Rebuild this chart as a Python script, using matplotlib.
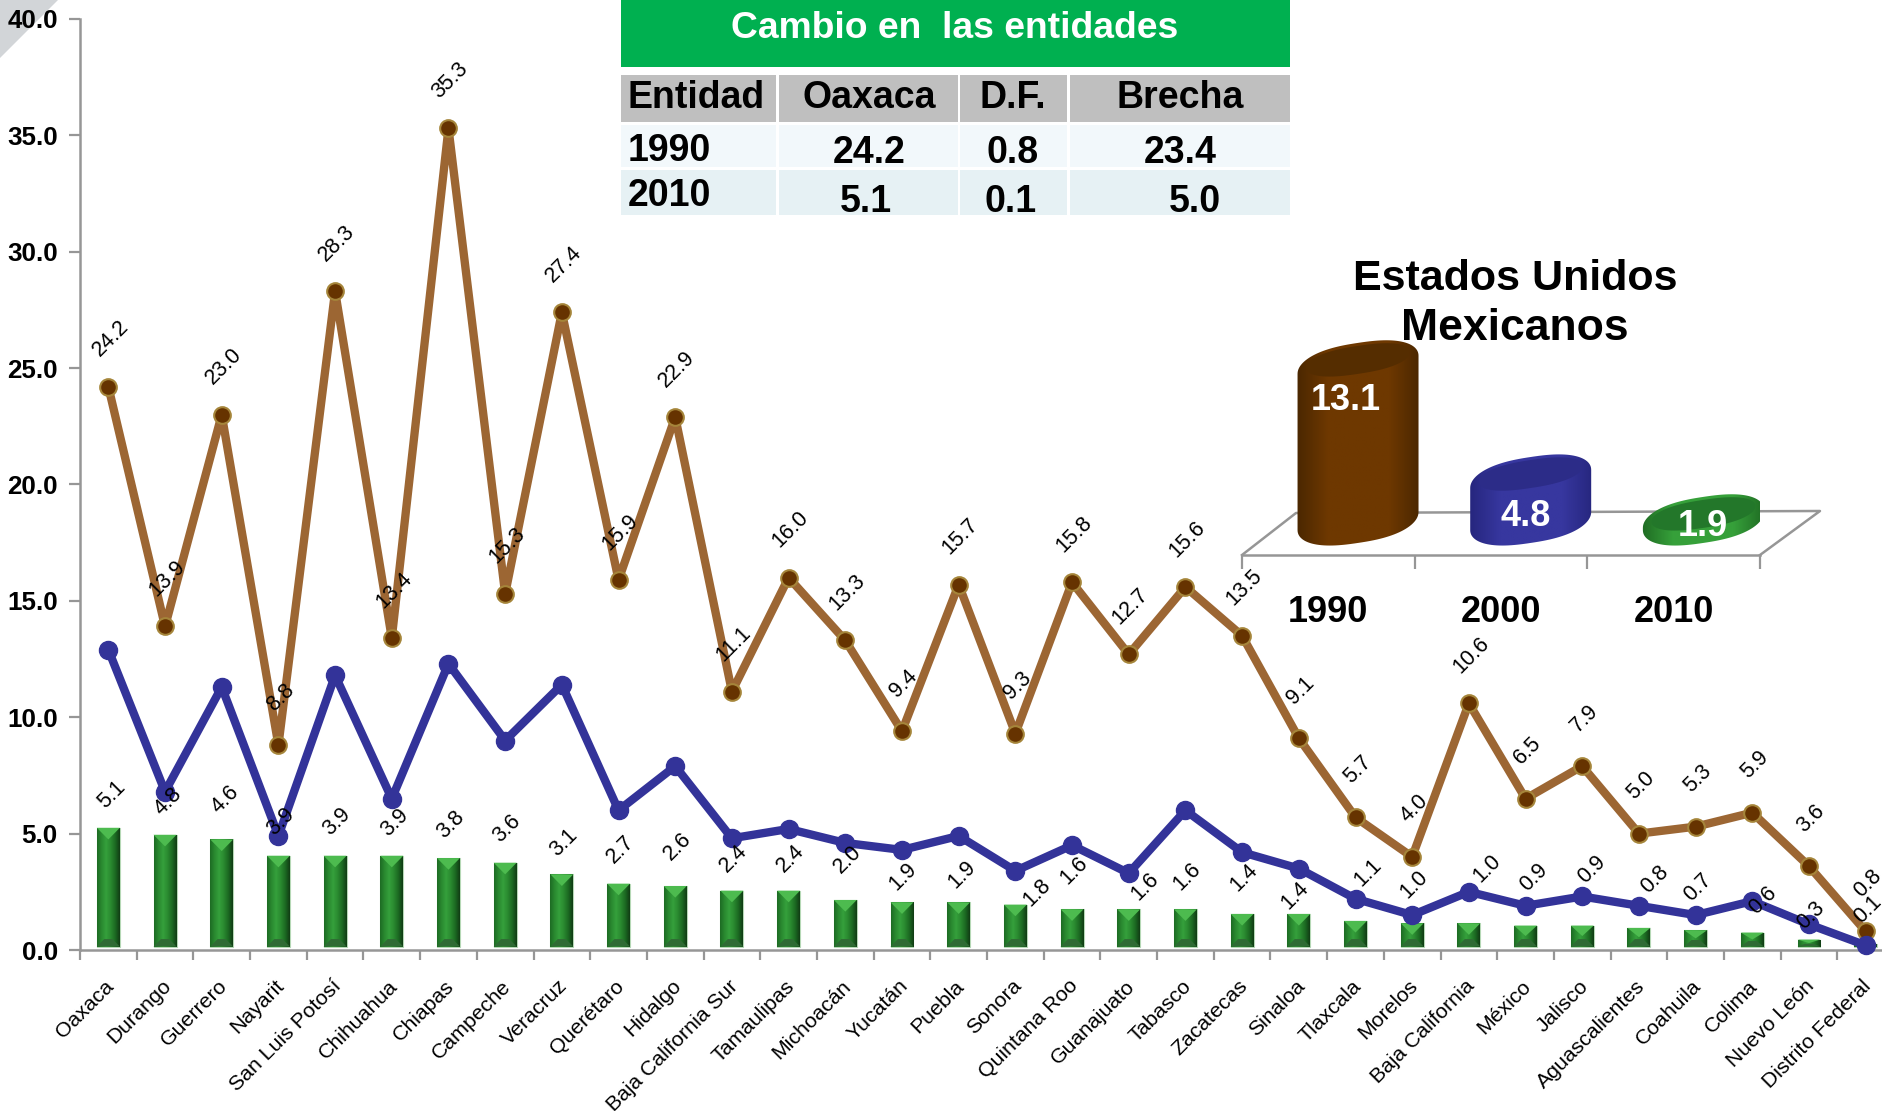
# -*- coding: utf-8 -*-
"""Rezago por entidad 1990/2000/2010, con tabla e inset de cilindros."""
import numpy as np
import matplotlib; matplotlib.use("Agg")
import matplotlib.pyplot as plt
from matplotlib.patches import Polygon, Rectangle, PathPatch
from matplotlib.path import Path
from matplotlib.colors import LinearSegmentedColormap as LSC
from matplotlib.transforms import ScaledTranslation

plt.rcParams["font.family"]=["Liberation Sans","DejaVu Sans"]

entidades=["Oaxaca","Durango","Guerrero","Nayarit","San Luis Potosí","Chihuahua","Chiapas","Campeche","Veracruz","Querétaro","Hidalgo","Baja California Sur","Tamaulipas","Michoacán","Yucatán","Puebla","Sonora","Quintana Roo","Guanajuato","Tabasco","Zacatecas","Sinaloa","Tlaxcala","Morelos","Baja California","México","Jalisco","Aguascalientes","Coahuila","Colima","Nuevo León","Distrito Federal"]
v1990=[24.2,13.9,23.0,8.8,28.3,13.4,35.3,15.3,27.4,15.9,22.9,11.1,16.0,13.3,9.4,15.7,9.3,15.8,12.7,15.6,13.5,9.1,5.7,4.0,10.6,6.5,7.9,5.0,5.3,5.9,3.6,0.8]
v2000=[12.9,6.8,11.3,4.9,11.8,6.5,12.3,9.0,11.4,6.0,7.9,4.8,5.2,4.6,4.3,4.9,3.4,4.5,3.3,6.0,4.2,3.5,2.2,1.5,2.5,1.9,2.3,1.9,1.5,2.1,1.1,0.2]
v2010=[5.1,4.8,4.6,3.9,3.9,3.9,3.8,3.6,3.1,2.7,2.6,2.4,2.4,2.0,1.9,1.9,1.8,1.6,1.6,1.6,1.4,1.4,1.1,1.0,1.0,0.9,0.9,0.8,0.7,0.6,0.3,0.1]
# nudges of the hand-placed 2010 labels, px
lab_dx=[3,3,3,2,2,3,2,2,2,2,2,2,2,2,1,3,22,2,16,2,2,-4,13,2,18,8,10,16,2,11,2,2]
lab_dy=[37,37,43,38,38,37,37,38,35,38,43,36,36,44,29,31,16,42,26,36,40,22,52,42,58,52,60,52,46,36,28,38]

anios=["1990","2000","2010"]
nacional=[13.1,4.8,1.9]
tabla_cab=["Entidad","Oaxaca","D.F.","Brecha"]
tabla_1990=["1990","24.2","0.8","23.4"]
tabla_2010=["2010","5.1","0.1","5.0"]

W,H=1883,1111
GRIS="#969696"; CAFE="#9C6633"; CAFE_OSC="#663300"; AZUL="#333399"
fig=plt.figure(figsize=(W/100,H/100),dpi=100,facecolor="white")

# overlay in pixel coords for the decorations
ov=fig.add_axes([0,0,1,1],zorder=0); ov.set_xlim(0,W); ov.set_ylim(H,0); ov.axis("off")
ov.add_patch(Polygon([(0,0),(58,0),(0,58)],fc="#D2D5D8",ec="none"))

# ---- main chart
ax=fig.add_axes([80/W,1-950/H,(W-80)/W,931/H],zorder=1); ax.patch.set_alpha(0)
x=np.arange(len(entidades))
ax.set_xlim(-0.5,(W-108)/56.7); ax.set_ylim(0,40)
for s in ("top","right"): ax.spines[s].set_visible(False)
for s in ("left","bottom"): ax.spines[s].set_color(GRIS); ax.spines[s].set_linewidth(1.8)
ax.set_yticks(np.arange(0,41,5)); ax.set_yticklabels([f"{t:.1f}" for t in np.arange(0,41,5)],fontsize=18.7,fontweight="bold")
ax.tick_params(axis="y",color=GRIS,width=1.6,length=8,pad=8)
ax.set_xticks(x); ax.set_xticklabels(entidades,rotation=45,ha="right",va="top",rotation_mode="anchor",fontsize=15.3)
ax.set_xticks(np.arange(-0.5,len(entidades),1),minor=True)
ax.tick_params(axis="x",which="major",length=0,pad=19)
ax.tick_params(axis="x",which="minor",color=GRIS,width=1.6,length=7)
for lb in ax.get_xticklabels():
    lb.set_transform(lb.get_transform()+ScaledTranslation(-4/100,0,fig.dpi_scale_trans))

# bevelled bars
bw=0.405; base=0.15
grad=LSC.from_list("g",["#1d6b24","#2a8a30","#35a03c","#2a8a30","#1c6a22","#113c14"])(np.linspace(0,1,64))[None,:,:]
bars=ax.bar(x,v2010,bw,bottom=base,color="#2a8a30",edgecolor="#b5d8b5",linewidth=0.8,zorder=2)
for b in bars:
    l,r=b.get_x(),b.get_x()+b.get_width(); y0,y1=b.get_y(),b.get_y()+b.get_height()
    ax.imshow(grad,extent=[l,r,y0,y1],aspect="auto",zorder=2.1,interpolation="bilinear")
    tt=min(0.5,(y1-y0)*0.5); tb=min(0.32,(y1-y0)*0.4); m=(l+r)/2; ins=bw*0.32
    ax.add_patch(Polygon([(l,y1),(r,y1),(m,y1-tt)],fc="#4dbb4f",ec="none",zorder=2.2))
    ax.add_patch(Polygon([(l,y0),(r,y0),(r-ins,y0+tb),(l+ins,y0+tb)],fc="#2f6b34",ec="none",zorder=2.2))
ax.set_xlim(-0.5,(W-108)/56.7); ax.set_ylim(0,40)

ax.plot(x,v1990,color=CAFE,lw=6,marker="o",ms=12,mfc=CAFE_OSC,mec="#A5853A",mew=1.5,zorder=3,clip_on=False)
ax.plot(x,v2000,color=AZUL,lw=6,marker="o",ms=13,mfc=AZUL,mec=AZUL,zorder=4,clip_on=False)
for i,v in enumerate(v1990):
    ax.annotate(f"{v:.1f}",(i,v),xytext=(2*.72,48*.72),textcoords="offset points",rotation=45,ha="center",va="center",fontsize=15.5,zorder=6,annotation_clip=False)
for i,v in enumerate(v2010):
    ax.annotate(f"{v:.1f}",(i,v),xytext=(lab_dx[i]*.72,lab_dy[i]*.72),textcoords="offset points",rotation=45,ha="center",va="center",fontsize=15.5,zorder=6,annotation_clip=False)

# ---- table
col_x=[(621,776),(779,958),(960,1067),(1070,1290)]
txt_x=[628,869,1013,1180]
ov.add_patch(Rectangle((621,0),669,67,fc="#00B050",ec="none"))
ov.text(955,29,"Cambio en  las entidades",color="white",fontsize=26.8,fontweight="bold",ha="center",va="center")
for a,b in col_x:
    ov.add_patch(Rectangle((a,75),b-a,47,fc="#BFBFBF",ec="none"))
    ov.add_patch(Rectangle((a,125),b-a,42,fc="#F2F8FB",ec="none"))
    ov.add_patch(Rectangle((a,170),b-a,45,fc="#E6F1F4",ec="none"))
for j,t in enumerate(tabla_cab):
    ov.text(txt_x[j],98,t,fontsize=27,fontweight="bold",ha="left" if j==0 else "center",va="center")
for j,t in enumerate(tabla_1990):
    ov.text(txt_x[j],151 if j==0 else 153,t,fontsize=27,fontweight="bold",ha="left" if j==0 else "center",va="center")
txt2=[628,866,1011,1195]
for j,t in enumerate(tabla_2010):
    ov.text(txt2[j],196 if j==0 else 202,t,fontsize=27,fontweight="bold",ha="left" if j==0 else "center",va="center")

# ---- inset: Estados Unidos Mexicanos
ov.text(1515,279,"Estados Unidos",fontsize=31,fontweight="bold",ha="center",va="center")
ov.text(1515,329,"Mexicanos",fontsize=32,fontweight="bold",ha="center",va="center")
ov.plot([1242,1296,1820,1760],[555,513,511,555],color=GRIS,lw=1.8)

PXY=13.75; PXX=172.7
ins=fig.add_axes([1242/W,1-555/H,518/W,255/H],zorder=2); ins.patch.set_alpha(0)
ins.set_xlim(-0.5,2.5); ins.set_ylim(-10/PXY,245/PXY)
for s in ("top","right","left"): ins.spines[s].set_visible(False)
ins.spines["bottom"].set_color(GRIS); ins.spines["bottom"].set_linewidth(1.8)
ins.set_yticks([]); ins.set_xticks([0,1,2]); ins.set_xticklabels(anios,fontsize=26,fontweight="bold")
ins.set_xticks([-0.5,0.5,1.5,2.5],minor=True)
ins.tick_params(axis="x",which="major",length=0,pad=29)
ins.tick_params(axis="x",which="minor",color=GRIS,width=1.6,length=10)

def elipse(cx,cy,ts,sa=60.5,sb=22.0,k=0.15):
    # tilted, slightly squared ellipse; sizes in px, returned in inset data coords
    c,s=np.cos(ts),np.sin(ts)
    dx=sa*np.sign(c)*np.abs(c)**0.8; dy=sb*np.sign(s)*np.abs(s)**0.95
    return np.c_[cx+dx/PXX,cy+(dy+k*dx)/PXY]
cyl_c=[("#4a2700","#6e3800","#552d00"),("#26267e","#37379f","#2c2c88"),("#1f6b23","#36a03a","#23772a")]
for i,v in enumerate(nacional):
    cx=i+0.172
    bot=1.75 if v>=1.75 else v
    up=elipse(cx,v,np.linspace(0,np.pi,60)); dn=elipse(cx,bot,np.linspace(np.pi,2*np.pi,60))
    pts=np.r_[up,dn,up[:1]]
    sil=PathPatch(Path(pts),fc="none",ec="none",zorder=3); ins.add_patch(sil)
    g=LSC.from_list("c",[cyl_c[i][0],cyl_c[i][1],cyl_c[i][1],cyl_c[i][1],cyl_c[i][0]])(np.linspace(0,1,64))[None,:,:]
    im=ins.imshow(g,extent=[cx-0.36,cx+0.36,pts[:,1].min(),pts[:,1].max()],aspect="auto",zorder=3,interpolation="bilinear")
    im.set_clip_path(sil)
    ins.add_patch(Polygon(elipse(cx,v+5/PXY,np.linspace(0,2*np.pi,80),sa=52,sb=14),fc=cyl_c[i][2],ec="none",zorder=3.1))
    ins.text(cx+[-0.07,-0.03,0.0][i],[(545-400)/PXY,(545-516)/PXY,(545-527)/PXY][i],f"{v:.1f}",color="white",fontsize=26,fontweight="bold",ha="center",va="center",zorder=4)
ins.set_xlim(-0.5,2.5); ins.set_ylim(-10/PXY,245/PXY)

fig.savefig("out.png",dpi=100)
